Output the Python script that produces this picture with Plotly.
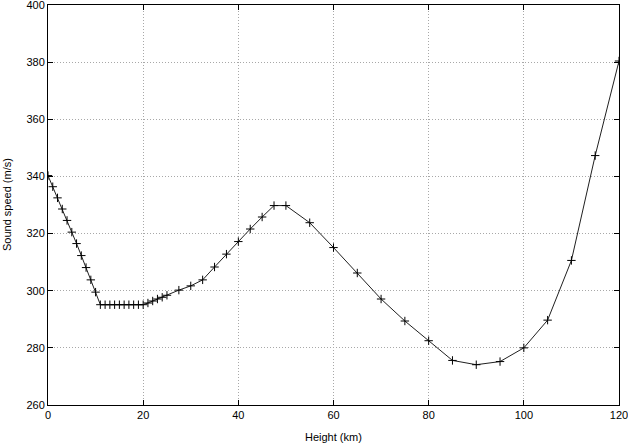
import plotly.graph_objects as go

# Height (km) and sound speed (m/s), standard atmosphere profile
height_km = [0, 1, 2, 3, 4, 5, 6, 7, 8, 9, 10, 11,
             12, 13, 14, 15, 16, 17, 18, 19, 20,
             21, 22, 23, 24, 25, 27.5, 30, 32.5, 35, 37.5, 40, 42.5, 45, 47.5, 50,
             55, 60, 65, 70, 75, 80, 85, 90, 95, 100, 105, 110, 115, 120]
sound_speed = [340.3, 336.4, 332.5, 328.6, 324.6, 320.5, 316.5, 312.3, 308.1, 303.8, 299.5, 295.1,
               295.1, 295.1, 295.1, 295.1, 295.1, 295.1, 295.1, 295.1, 295.1,
               295.7, 296.4, 297.1, 297.7, 298.4, 300.2, 301.7, 303.8, 308.3, 312.8, 317.2, 321.6, 325.8, 329.8, 329.8,
               323.8, 315.1, 306.2, 297.1, 289.4, 282.5, 275.6, 274.1, 275.2, 280.0, 289.7, 310.6, 347.3, 380.4]

x_ticks = [0, 20, 40, 60, 80, 100, 120]
y_ticks = [260, 280, 300, 320, 340, 360, 380, 400]

FONT = dict(family="Liberation Sans, Arial, sans-serif", size=11, color="black")
GRID = dict(showgrid=True, gridcolor="#a8a8a8", griddash="1px,2px", gridwidth=1,
            showline=True, linecolor="black", linewidth=1, mirror="ticks",
            ticks="inside", ticklen=5, tickcolor="black", zeroline=False,
            ticklabeloverflow="allow", automargin=False)

fig = go.Figure(go.Scatter(
    x=height_km, y=sound_speed, mode="lines+markers",
    line=dict(color="#202020", width=1),
    marker=dict(symbol="cross-thin", size=6, line=dict(color="black", width=1)),
    showlegend=False,
))

fig.update_layout(
    width=628, height=444,
    margin=dict(l=48, r=9, t=5, b=39),
    paper_bgcolor="white", plot_bgcolor="white",
    font=FONT,
    xaxis=dict(range=[-0.001, 120.001], tickvals=x_ticks, **GRID),
    yaxis=dict(range=[259.999, 400.001], tickvals=y_ticks, **GRID),
)

# axis titles placed as annotations so margins stay fixed
fig.add_annotation(text="Height (km)", xref="paper", yref="paper", x=0.5, y=-0.08,
                   xanchor="center", yanchor="middle", showarrow=False, font=FONT)
fig.add_annotation(text="Sound speed (m/s)", xref="paper", yref="paper", x=-0.0717, y=0.5,
                   xanchor="center", yanchor="middle", textangle=-90, showarrow=False, font=FONT)

fig.write_html("out.html", config=dict(displayModeBar=False),
               post_script="document.body.style.margin='0';")
